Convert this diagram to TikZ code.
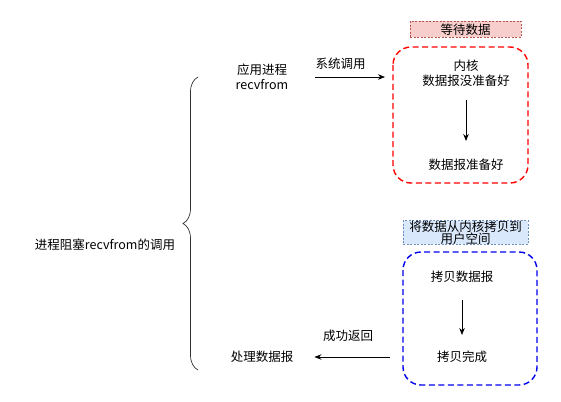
\documentclass[tikz,border=0pt]{standalone}
\usepackage{fontspec}
\setmainfont{Noto Sans CJK SC}
\usetikzlibrary{arrows.meta,decorations.pathreplacing}
\definecolor{waitline}{HTML}{FF0000}
\definecolor{copyline}{HTML}{0000EE}
\definecolor{waitfill}{HTML}{F8CECC}
\definecolor{waitedge}{HTML}{B85450}
\definecolor{copyfill}{HTML}{DAE8FC}
\definecolor{copyedge}{HTML}{6C8EBF}

\begin{document}
\begin{tikzpicture}[x=1pt,y=-1pt,
	txt/.style={font=\fontsize{12.5}{15}\selectfont,align=center,inner sep=0pt},
	arr/.style={-{Stealth[length=7pt,width=5.5pt]},line width=0.8pt},
	stage/.style={rounded corners=18pt,line width=1.4pt,dash pattern=on 6pt off 3.5pt},
	tag/.style={txt,line width=0.6pt,dash pattern=on 2pt off 1.5pt}]
	\useasboundingbox (0,0) rectangle (561,401);
	%
	\node[txt] (block) at (105,245) {进程阻塞recvfrom的调用};
	\coordinate (bracebot) at (198,370);
	\coordinate (bracetop) at (198,77);
	\draw[decorate,decoration={brace,amplitude=15pt},line width=0.7pt,draw=black!80] (bracebot) -- (bracetop);
	%
	\node[txt] (app) at (262,77) {应用进程\\recvfrom};
	\node[txt] (proc) at (262,357) {处理数据报};
	%
	\draw[stage,draw=waitline] (393,47) rectangle (528,183);
	\coordinate (waitin) at (393,77);
	\node[tag,draw=waitedge,fill=waitfill,minimum width=111pt,minimum height=16pt] (waittag) at (465.5,29.5) {等待数据};
	\node[txt] (kernel) at (466,73) {内核\\数据报没准备好};
	\node[txt] (ready) at (466,165) {数据报准备好};
	%
	\draw[stage,draw=copyline] (403,252) rectangle (537,385);
	\coordinate (copyout) at (403,357);
	\node[tag,draw=copyedge,fill=copyfill,minimum width=125pt,minimum height=21pt] (copytag) at (465.5,232.5) {将数据从内核拷贝到\\[-3pt]用户空间};
	\node[txt] (copying) at (462,277) {拷贝数据报};
	\node[txt] (copied) at (462,357) {拷贝完成};
	%
	\draw[arr,shorten <=27pt,shorten >=8pt] (app.east |- waitin) -- (waitin) node[midway,above=7pt,txt] {系统调用};
	\draw[arr,shorten <=14pt,shorten >=18pt] (kernel) -- (ready);
	\draw[arr,shorten <=17pt,shorten >=16pt] (copying) -- (copied);
	\draw[arr,shorten <=13pt,shorten >=21pt] (copyout) -- (proc.east |- copyout) node[midway,above=15pt,txt] {成功返回};
\end{tikzpicture}
\end{document}
